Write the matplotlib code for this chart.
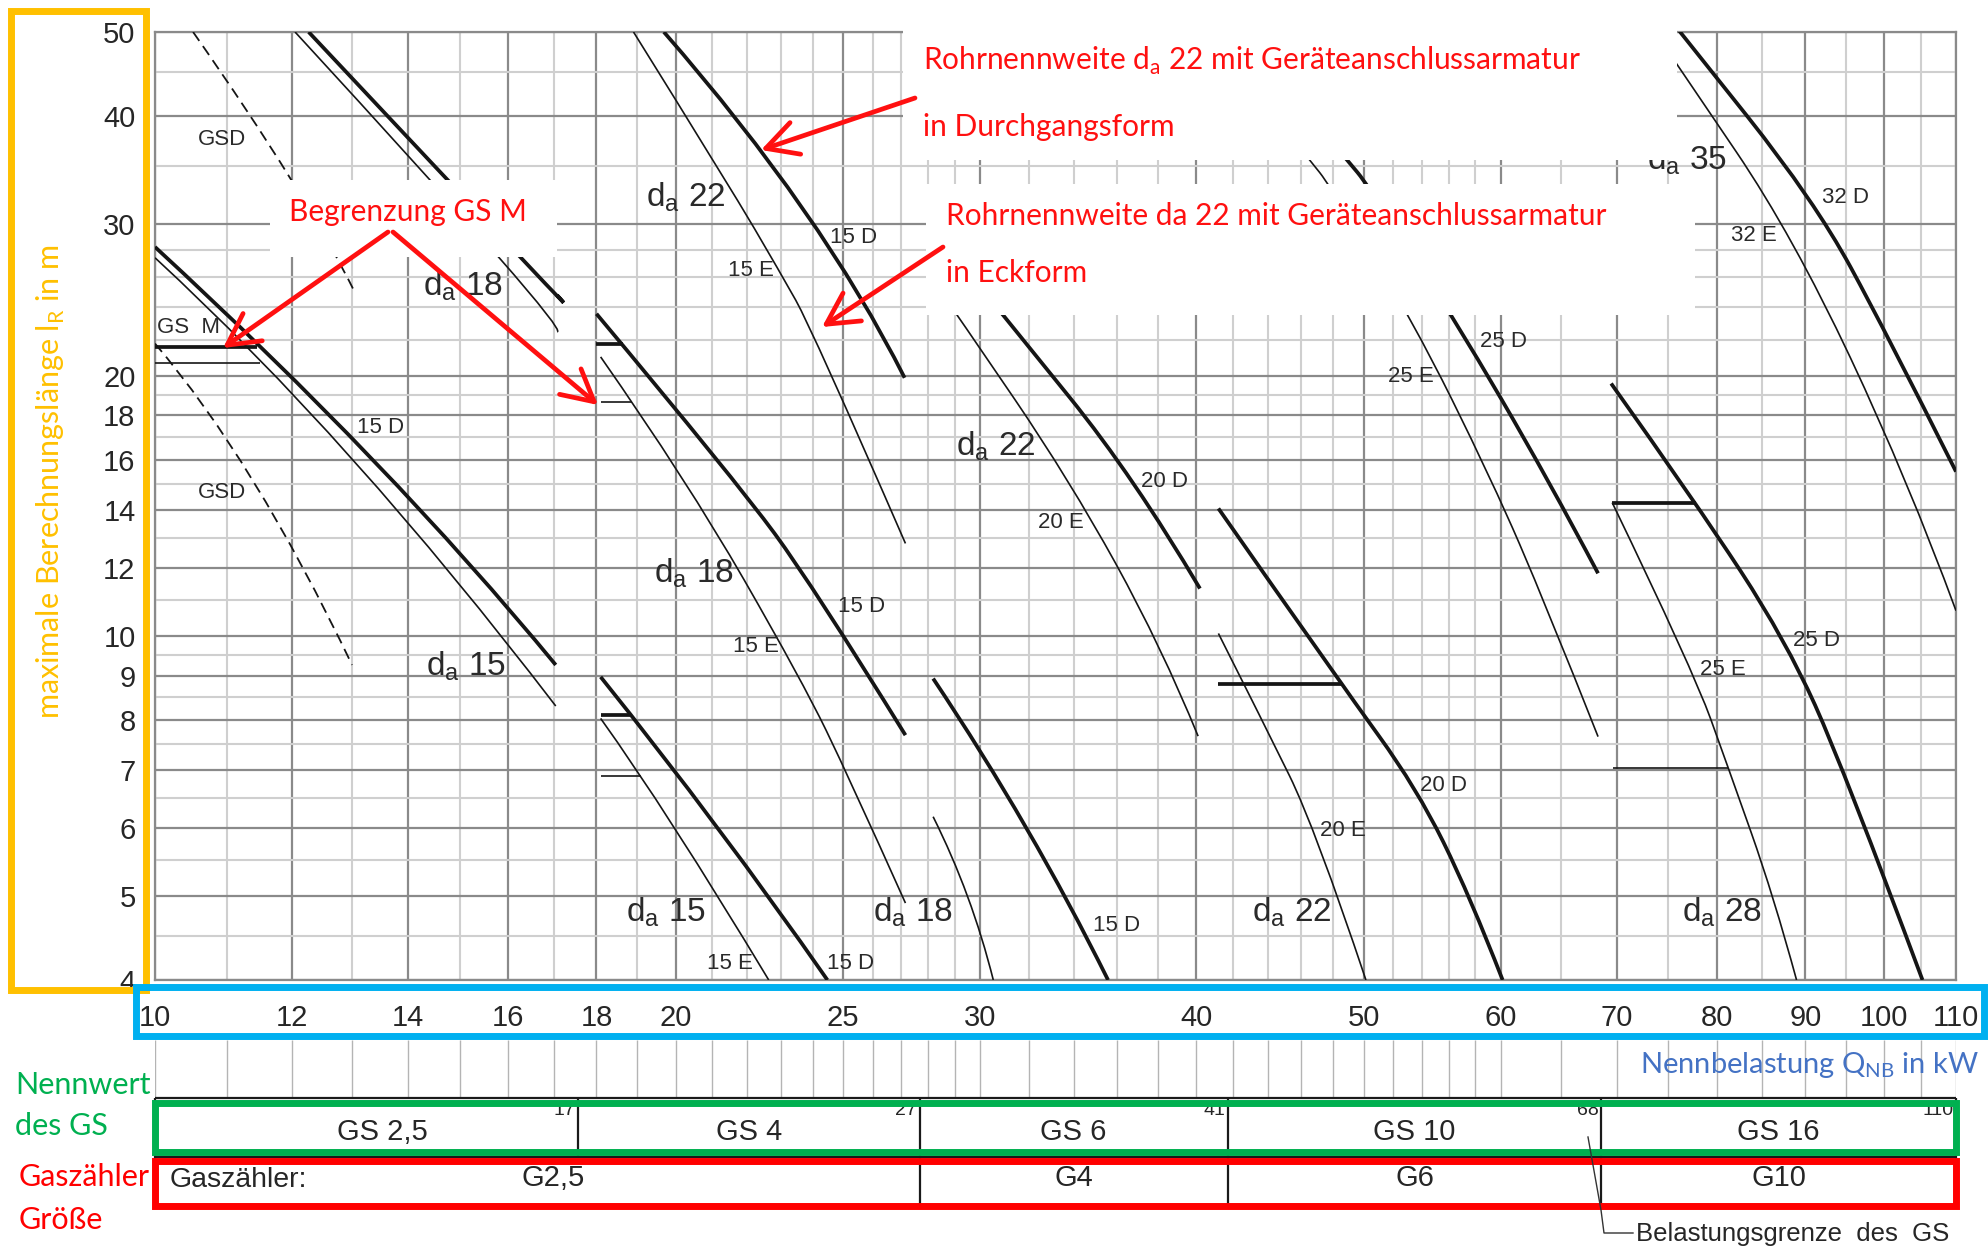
import matplotlib
matplotlib.use("Agg")
import numpy as np
import matplotlib.pyplot as plt
from matplotlib.patches import Rectangle, PathPatch
from matplotlib.path import Path
from matplotlib.ticker import NullFormatter

W, H, DPI = 1988, 1252, 100

CHART_FONT = ["Liberation Sans", "DejaVu Sans"]
NOTE_FONT = ["Lato", "DejaVu Sans"]
plt.rcParams["font.family"] = CHART_FONT

# Nennbelastung axis (kW) and Berechnungslaenge axis (m)
q_ticks = [10, 12, 14, 16, 18, 20, 25, 30, 40, 50, 60, 70, 80, 90, 100, 110]
q_minor = [11, 13, 15, 17, 19, 21, 22, 23, 24, 26, 27, 28, 29, 32, 34, 36, 38,
           42, 44, 46, 48, 52, 54, 56, 58, 65, 75, 85, 95, 105]
l_ticks = [4, 5, 6, 7, 8, 9, 10, 12, 14, 16, 18, 20, 30, 40, 50]
l_minor = [4.5, 5.5, 6.5, 7.5, 8.5, 9.5, 11, 13, 15, 17, 19, 22, 24, 26, 28, 35, 45]

# --- GS 2,5 range ---
gsd_upper_q = [10.52, 11.97, 13.06]
gsd_upper_l = [50.0, 33.9, 24.9]
gsd_lower_q = [10.0, 11.4, 13.0]
gsd_lower_l = [21.8, 15.1, 9.26]
d15_a_D_q = [10.0, 13.37, 17.05]
d15_a_D_l = [28.2, 15.98, 9.26]
d15_a_E_q = [10.0, 13.02, 17.05]
d15_a_E_l = [27.4, 15.98, 8.3]
d18_a_D_q = [12.27, 16.26, 17.08]
d18_a_D_l = [50.0, 27.46, 24.8]
d18_a_E_q = [12.05, 15.8, 17.08]
d18_a_E_l = [50.0, 27.46, 22.5]
gsm_a_D_q, gsm_a_D_l = [10.0, 11.45], [21.6, 21.6]
gsm_a_E_q, gsm_a_E_l = [10.0, 11.5], [20.7, 20.7]

# --- GS 4 range ---
d15_b_D_q = [18.1, 21.15, 24.48]
d15_b_D_l = [8.97, 6.0, 4.0]
d15_b_E_q = [18.1, 20.0, 22.64]
d15_b_E_l = [8.03, 5.97, 4.0]
d18_b_D_q = [18.0, 21.66, 24.04, 27.16]
d18_b_D_l = [23.6, 15.15, 11.4, 7.68]
d18_b_E_q = [18.1, 20.3, 23.66, 25.24, 27.16]
d18_b_E_l = [21.04, 15.15, 8.89, 6.81, 4.91]
d22_b_D_q = [19.69, 23.7, 27.13]
d22_b_D_l = [50.0, 31.2, 19.9]
d22_b_E_q = [18.91, 21.5, 22.95, 24.0, 27.16]
d22_b_E_l = [50.0, 33.1, 26.5, 22.6, 12.8]
gsm_b15_D_q, gsm_b15_D_l = [18.1, 18.82], [8.1, 8.1]
gsm_b15_E_q, gsm_b15_E_l = [18.1, 19.09], [6.88, 6.88]
gsm_b18_D_q, gsm_b18_D_l = [18.0, 18.65], [21.8, 21.8]
gsm_b18_E_q, gsm_b18_E_l = [18.1, 18.88], [18.65, 18.65]

# --- GS 6 range ---
d18_c_D_q = [28.18, 31.9, 35.57]
d18_c_D_l = [8.93, 6.0, 4.0]
d18_c_E_q = [28.18, 29.5, 30.53]
d18_c_E_l = [6.18, 5.0, 4.0]
d22_c_D_q = [29.7, 31.05, 36.8, 40.2]
d22_c_D_l = [26.0, 23.3, 15.3, 11.35]
d22_c_E_q = [28.1, 29.2, 33.8, 38.2, 40.1]
d22_c_E_l = [26.0, 23.3, 15.15, 9.72, 7.66]

# --- GS 10 range ---
d22_d_D_q = [41.2, 48.5, 53.65, 57.6, 60.15]
d22_d_D_l = [14.05, 8.81, 6.67, 5.0, 4.0]
d22_d_E_q = [41.2, 43.77, 46.86, 50.14]
d22_d_E_l = [10.07, 7.92, 6.0, 4.0]
d28_d_D_q = [42.4, 48.98, 50.2, 56.4, 63.96, 68.3]
d28_d_D_l = [50.0, 35.4, 33.4, 23.3, 15.15, 11.82]
d28_d_E_q = [41.2, 46.6, 47.7, 53.3, 59.3, 63.8, 68.3]
d28_d_E_l = [48.1, 35.4, 33.4, 23.3, 15.15, 10.8, 7.65]
gsm_d22_D_q, gsm_d22_D_l = [41.2, 48.5], [8.81, 8.81]

# --- GS 16 range ---
d28_e_D_q = [69.5, 77.8, 87.7, 94.8, 105.2]
d28_e_D_l = [19.6, 14.27, 9.89, 7.0, 4.0]
d28_e_E_q = [69.6, 77.5, 81.25, 86.3, 88.96]
d28_e_E_l = [14.27, 9.14, 7.03, 5.0, 4.0]
d35_e_D_q = [72.0, 76.2, 91.1, 100.3, 110.0]
d35_e_D_l = [57.6, 50.0, 31.9, 22.4, 15.5]
d35_e_E_q = [72.0, 76.2, 88.5, 103.2, 110.0]
d35_e_E_l = [53.5, 45.3, 29.1, 15.15, 10.7]
gsm_e28_D_q, gsm_e28_D_l = [69.6, 77.8], [14.27, 14.27]
gsm_e28_E_q, gsm_e28_E_l = [69.7, 81.25], [7.03, 7.03]

curves = [
    (gsd_upper_q, gsd_upper_l, "GSD"), (gsd_lower_q, gsd_lower_l, "GSD"),
    (d15_a_D_q, d15_a_D_l, "D"), (d15_a_E_q, d15_a_E_l, "E"),
    (d18_a_D_q, d18_a_D_l, "D"), (d18_a_E_q, d18_a_E_l, "E"),
    (gsm_a_D_q, gsm_a_D_l, "D"), (gsm_a_E_q, gsm_a_E_l, "E"),
    (d15_b_D_q, d15_b_D_l, "D"), (d15_b_E_q, d15_b_E_l, "E"),
    (d18_b_D_q, d18_b_D_l, "D"), (d18_b_E_q, d18_b_E_l, "E"),
    (d22_b_D_q, d22_b_D_l, "D"), (d22_b_E_q, d22_b_E_l, "E"),
    (gsm_b15_D_q, gsm_b15_D_l, "D"), (gsm_b15_E_q, gsm_b15_E_l, "E"),
    (gsm_b18_D_q, gsm_b18_D_l, "D"), (gsm_b18_E_q, gsm_b18_E_l, "E"),
    (d18_c_D_q, d18_c_D_l, "D"), (d18_c_E_q, d18_c_E_l, "E"),
    (d22_c_D_q, d22_c_D_l, "D"), (d22_c_E_q, d22_c_E_l, "E"),
    (d22_d_D_q, d22_d_D_l, "D"), (d22_d_E_q, d22_d_E_l, "E"),
    (d28_d_D_q, d28_d_D_l, "D"), (d28_d_E_q, d28_d_E_l, "E"),
    (gsm_d22_D_q, gsm_d22_D_l, "D"),
    (d28_e_D_q, d28_e_D_l, "D"), (d28_e_E_q, d28_e_E_l, "E"),
    (d35_e_D_q, d35_e_D_l, "D"), (d35_e_E_q, d35_e_E_l, "E"),
    (gsm_e28_D_q, gsm_e28_D_l, "D"), (gsm_e28_E_q, gsm_e28_E_l, "E"),
]
styles = {
    "D": dict(edgecolor="#151515", lw=2.7),
    "E": dict(edgecolor="#151515", lw=1.2),
    "GSD": dict(edgecolor="#151515", lw=1.3, linestyle=(0, (6, 3.5))),
}

# pipe size labels (d_a) and fitting labels
pipe_labels = [("15", 15.13, 9.24), ("18", 15.07, 25.4), ("22", 20.26, 32.2),
               ("18", 20.5, 11.82), ("15", 19.75, 4.79), ("18", 27.45, 4.79),
               ("22", 30.63, 16.57), ("22", 45.4, 4.79), ("28", 80.6, 4.79),
               ("35", 76.9, 35.5)]
fit_labels = [("GSD", 10.94, 37.5), ("GSD", 10.94, 14.67), ("GS  M", 10.45, 22.75),
              ("15 D", 13.5, 17.43), ("15 D", 25.36, 28.9), ("15 E", 22.11, 26.5),
              ("15 D", 25.62, 10.83), ("15 E", 22.26, 9.72), ("15 E", 21.49, 4.18),
              ("15 D", 25.23, 4.18), ("15 D", 35.96, 4.62), ("20 D", 38.35, 15.08),
              ("20 E", 33.4, 13.53), ("20 D", 55.6, 6.71), ("20 E", 48.6, 5.96),
              ("25 D", 60.2, 21.9), ("25 E", 53.2, 19.95), ("25 D", 91.4, 9.88),
              ("25 E", 80.6, 9.15), ("32 D", 95.0, 32.2), ("32 E", 84.1, 29.1)]

# meter table
gs_edges = [10, 17, 27, 41, 68, 110]
gs_names = ["GS 2,5", "GS 4", "GS 6", "GS 10", "GS 16"]
meter_edges = [10, 27, 41, 68, 110]
meter_names = ["G2,5", "G4", "G6", "G10"]


def curve_path(q, l):
    """Smooth path along the read points, built in log-log space."""
    p = np.log10(np.column_stack([q, l]))
    n = len(p)
    if n == 2:
        verts, codes = [p[0], p[1]], [Path.MOVETO, Path.LINETO]
    elif n == 3:
        ctrl = 2 * p[1] - (p[0] + p[2]) / 2
        verts, codes = [p[0], ctrl, p[2]], [Path.MOVETO, Path.CURVE3, Path.CURVE3]
    else:
        verts, codes = [p[0]], [Path.MOVETO]
        for i in range(1, n - 1):
            end = p[-1] if i == n - 2 else (p[i] + p[i + 1]) / 2
            verts += [p[i], end]
            codes += [Path.CURVE3, Path.CURVE3]
    return Path(10 ** np.array(verts), codes)


fig = plt.figure(figsize=(W / DPI, H / DPI), dpi=DPI)


def px_rect(x0, y0, x1, y1):
    return [x0 / W, 1 - y1 / H, (x1 - x0) / W, (y1 - y0) / H]


ax = fig.add_axes(px_rect(155, 32, 1956, 980))
ax.set_xscale("log")
ax.set_yscale("log")
ax.set_xlim(10, 110)
ax.set_ylim(4, 50)
ax.set_xticks(q_ticks)
ax.set_xticklabels([str(v) for v in q_ticks])
ax.set_xticks(q_minor, minor=True)
ax.set_yticks(l_ticks)
ax.set_yticklabels([str(v) for v in l_ticks])
ax.set_yticks(l_minor, minor=True)
ax.xaxis.set_minor_formatter(NullFormatter())
ax.yaxis.set_minor_formatter(NullFormatter())
ax.tick_params(which="both", length=0, labelsize=21, labelcolor="#262626")
ax.tick_params(axis="x", pad=17)
ax.tick_params(axis="y", pad=14)
ax.grid(which="minor", color="#cfcfcf", lw=1.5)
ax.grid(which="major", color="#8a8a8a", lw=1.6)
ax.set_axisbelow(True)
for s in ax.spines.values():
    s.set_color("#8a8a8a")
    s.set_linewidth(1.6)

for q, l, kind in curves:
    ax.add_patch(PathPatch(curve_path(q, l), fill=False, capstyle="butt",
                           zorder=3, **styles[kind]))

for size, q, l in pipe_labels:
    ax.text(q, l, r"d$_\mathregular{a}$ " + size, fontsize=24, color="#2a2a2a",
            ha="center", va="center", zorder=4)
for txt, q, l in fit_labels:
    ax.text(q, l, txt, fontsize=16, color="#2a2a2a", ha="center", va="center", zorder=4)

# tick strip between axis labels and table
strip = fig.add_axes(px_rect(155, 1040, 1956, 1098))
strip.set_xscale("log")
strip.set_xlim(10, 110)
strip.set_ylim(0, 1)
strip.axis("off")
strip.vlines(q_ticks + q_minor, 0, 1, color="#b4b4b4", lw=1)

# GS / Gaszaehler table
tab = fig.add_axes(px_rect(155, 1098, 1956, 1205))
tab.set_xscale("log")
tab.set_xlim(9.58, 110)
tab.set_ylim(0, 1)
tab.axis("off")
mid = 0.449
line_kw = dict(color="#1a1a1a", lw=1.6, clip_on=False)
tab.hlines([0, mid, 1], 9.58, 110, **line_kw)
tab.vlines([9.58, 110], 0, 1, **line_kw)
tab.vlines(gs_edges[1:-1], mid, 1, **line_kw)
tab.vlines(meter_edges[1:-1], 0, mid, **line_kw)
for i, name in enumerate(gs_names):
    xc = (gs_edges[i] * gs_edges[i + 1]) ** 0.5
    tab.text(xc, 0.68, name, fontsize=21, ha="center", va="center", color="#262626")
    tab.annotate(str(gs_edges[i + 1]), (gs_edges[i + 1], 0.965), xytext=(-2, 0),
                 textcoords="offset points", ha="right", va="top", fontsize=14,
                 color="#262626")
for i, name in enumerate(meter_names):
    xc = (meter_edges[i] * meter_edges[i + 1]) ** 0.5
    tab.text(xc, 0.25, name, fontsize=21, ha="center", va="center", color="#262626")
tab.text(0.008, 0.23, "Gaszähler:", transform=tab.transAxes, fontsize=20.5,
         ha="left", va="center", color="#262626")

# overlay in pixel coordinates for notes and frames
ov = fig.add_axes([0, 0, 1, 1], zorder=5)
ov.set_xlim(0, W)
ov.set_ylim(H, 0)
ov.axis("off")

for x0, y0, x1, y1 in [(903, 23, 1677, 160), (926, 184, 1695, 315), (270, 180, 557, 257)]:
    ov.add_patch(Rectangle((x0, y0), x1 - x0, y1 - y0, fc="white", ec="none"))

note_kw = dict(fontfamily=NOTE_FONT, color="#ff1010", fontsize=21.5, va="center")
ov.text(923, 61, r"Rohrnennweite d$_\mathregular{a}$ 22 mit Geräteanschlussarmatur",
        ha="left", **note_kw)
ov.text(923, 127, "in Durchgangsform", ha="left", **note_kw)
ov.text(946, 216, "Rohrnennweite da 22 mit Geräteanschlussarmatur", ha="left", **note_kw)
ov.text(946, 273, "in Eckform", ha="left", **note_kw)
ov.text(408, 212, "Begrenzung GS M", ha="center", **note_kw)

arrow_kw = dict(arrowstyle="->,head_length=0.75,head_width=0.4", color="#ff1010",
                lw=3.4, mutation_scale=30, shrinkA=0, shrinkB=0)
for tail, head in [((915, 98), (761, 150)), ((943, 247), (822, 327)),
                   ((388, 232), (223, 348)), ((393, 232), (598, 405))]:
    ov.annotate("", xy=head, xytext=tail, arrowprops=arrow_kw)

# colour frames
for (x0, y0, x1, y1), col in [((11, 11, 146, 990), "#FFC000"),
                              ((136, 987, 1984, 1036), "#00B0F0"),
                              ((155, 1103, 1956, 1152), "#00B050"),
                              ((155, 1161, 1956, 1206), "#FF0000")]:
    ov.add_patch(Rectangle((x0, y0), x1 - x0, y1 - y0, fill=False, ec=col, lw=5))

ov.text(51, 482, r"maximale Berechnungslänge l$_\mathregular{R}$ in m", rotation=90,
        fontfamily=NOTE_FONT, fontsize=22, color="#FFC000", ha="center", va="center")
ov.text(1640, 1065, r"Nennbelastung Q$_\mathregular{NB}$ in kW", fontfamily=NOTE_FONT,
        fontsize=21, color="#4472C4", ha="left", va="center")
side_kw = dict(fontfamily=NOTE_FONT, fontsize=22, ha="left", va="center")
ov.text(15, 1085, "Nennwert", color="#00B050", **side_kw)
ov.text(15, 1126, "des GS", color="#00B050", **side_kw)
ov.text(19, 1177, "Gaszähler", color="#FF0000", **side_kw)
ov.text(19, 1220, "Größe", color="#FF0000", **side_kw)

# load limit leader
ov.plot([1588, 1601, 1604, 1633], [1137, 1210, 1233, 1233], color="#333333", lw=1)
ov.text(1636, 1234, "Belastungsgrenze  des  GS", fontsize=18.5, color="#262626",
        ha="left", va="center")

fig.savefig("out.png", dpi=DPI)
